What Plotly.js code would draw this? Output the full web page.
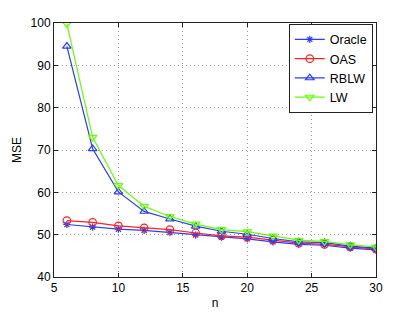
<!DOCTYPE html>
<html>
<head>
<meta charset="utf-8">
<script src="https://cdn.plot.ly/plotly-3.0.1.min.js"></script>
<style>html,body{margin:0;padding:0;background:#fff;}#chart{width:415px;height:313px;}</style>
</head>
<body>
<div id="chart"></div>
<script>
const n = [6, 8, 10, 12, 14, 16, 18, 20, 22, 24, 26, 28, 30];
const oracle = [52.4, 51.8, 51.3, 51.0, 50.5, 49.9, 49.4, 49.0, 48.3, 47.7, 47.5, 46.8, 46.4];
const oas    = [53.3, 52.9, 52.1, 51.6, 51.2, 50.4, 49.7, 49.4, 48.7, 48.0, 47.7, 47.1, 46.6];
const rblw   = [94.5, 70.3, 60.1, 55.5, 53.7, 52.0, 50.8, 50.1, 49.1, 48.3, 48.1, 47.3, 46.8];
const lw     = [99.8, 73.0, 61.6, 56.7, 54.3, 52.5, 51.2, 50.7, 49.7, 48.7, 48.4, 47.6, 47.1];
const names = ['Oracle', 'OAS', 'RBLW', 'LW'];
const colors = ['#2b3cff', '#ff2020', '#2b3cff', '#66ff00'];
const symbols = ['asterisk-open', 'circle-open', 'triangle-up-open', 'triangle-down-open'];
const series = [oracle, oas, rblw, lw];

const traces = series.map((y, i) => ({
  x: n, y: y, name: names[i], type: 'scatter', mode: 'lines+markers',
  line: {color: colors[i], width: 1.2},
  marker: {symbol: symbols[i], size: i === 0 ? 6 : 7.5, color: colors[i], line: {color: colors[i], width: 1.2}}
}));

const axisCommon = {
  showline: true, linecolor: '#222', linewidth: 1, mirror: 'ticks',
  ticks: 'inside', ticklen: 4, tickcolor: '#222',
  showgrid: true, gridcolor: '#999', griddash: '1px,3px', gridwidth: 1,
  zeroline: false, tickfont: {family: 'Liberation Sans, Arial, sans-serif', size: 12, color: '#000'}
};

const layout = {
  width: 415, height: 313,
  margin: {l: 54, r: 39, t: 23, b: 36},
  paper_bgcolor: '#fff', plot_bgcolor: '#fff',
  font: {family: 'Liberation Sans, Arial, sans-serif', size: 12, color: '#000'},
  xaxis: Object.assign({}, axisCommon, {range: [5, 30], dtick: 5, tick0: 5,
    title: {text: 'n', standoff: 4, font: {size: 12}}}),
  yaxis: Object.assign({}, axisCommon, {range: [40, 100], dtick: 10, tick0: 40,
    title: {text: 'MSE', standoff: 6, font: {size: 12}}}),
  showlegend: true,
  legend: {x: 0.99, y: 0.997, xanchor: 'right', yanchor: 'top',
    bgcolor: '#fff', bordercolor: '#222', borderwidth: 1,
    font: {size: 12.5, color: '#000'}, tracegroupgap: 0, itemwidth: 30}
};

Plotly.newPlot('chart', traces, layout, {displayModeBar: false, staticPlot: true});
</script>
</body>
</html>
